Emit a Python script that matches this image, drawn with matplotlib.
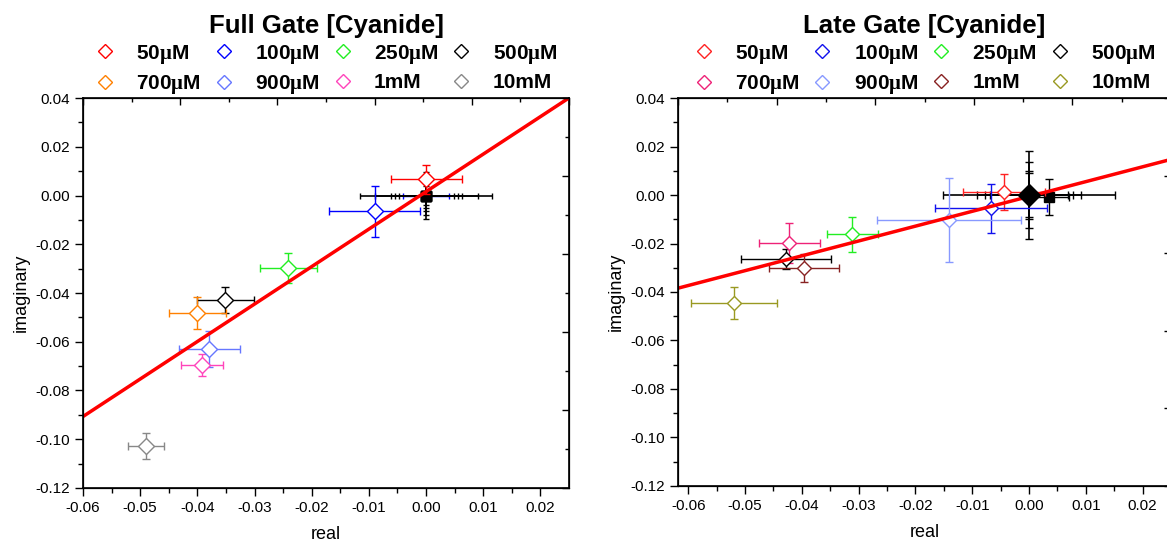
import matplotlib
matplotlib.use('Agg')
import matplotlib.pyplot as plt
from matplotlib.lines import Line2D
import numpy as np

plt.rcParams['font.family'] = ['Liberation Sans', 'DejaVu Sans']
plt.rcParams['mathtext.fontset'] = 'custom'
plt.rcParams['mathtext.rm'] = 'Liberation Serif:bold'

labels = ['50$\\mathrm{\\mu}$M', '100$\\mathrm{\\mu}$M', '250$\\mathrm{\\mu}$M', '500$\\mathrm{\\mu}$M',
          '700$\\mathrm{\\mu}$M', '900$\\mathrm{\\mu}$M', '1mM', '10mM']

# Full gate panel
full_colors = ['#FF0000', '#0000FF', '#22EE22', '#000000', '#FF8000', '#6677FF', '#FF44BB', '#888888']
full_x = [0.0, -0.009, -0.0241, -0.0351, -0.040, -0.0379, -0.0392, -0.049]
full_y = [0.0067, -0.0065, -0.0297, -0.0429, -0.0482, -0.0630, -0.0695, -0.1028]
full_xerr = [0.0062, 0.0079, 0.0050, 0.0050, 0.0050, 0.0053, 0.0036, 0.0032]
full_yerr = [0.0060, 0.0105, 0.0060, 0.0053, 0.0064, 0.0074, 0.0045, 0.0053]
full_zero_xerr = [0.0115, 0.0090, 0.0062, 0.0055, 0.0048]
full_zero_yerr = [0.0098, 0.0078, 0.0062, 0.0050, 0.0040]
full_fit = (1.538, 0.0016)

# Late gate panel
late_colors = ['#FF2222', '#1111EE', '#22EE22', '#000000', '#EE2277', '#8899FF', '#882222', '#999922']
late_x = [-0.0044, -0.0067, -0.0311, -0.0428, -0.0422, -0.0141, -0.0396, -0.0520]
late_y = [0.0012, -0.0054, -0.0161, -0.0264, -0.0198, -0.0103, -0.0301, -0.0447]
late_xerr = [0.0072, 0.0099, 0.0045, 0.0080, 0.0054, 0.0127, 0.0061, 0.0076]
late_yerr = [0.0075, 0.0101, 0.0072, 0.0043, 0.0083, 0.0172, 0.0058, 0.0066]
late_zero_xerr = [0.0152, 0.0092, 0.0078, 0.0069]
late_zero_yerr = [0.0180, 0.0135, 0.0099, 0.0090]
late_ref_x, late_ref_y, late_ref_xerr, late_ref_yerr = 0.0035, -0.0008, 0.0035, 0.0075
late_fit = (0.612, -0.0006)


def style_axes(ax, xlim):
    ax.set_xlim(xlim)
    ax.set_ylim(-0.12, 0.04)
    ax.set_xticks(np.arange(-0.06, 0.0201, 0.01))
    ax.set_xticks(np.arange(-0.055, xlim[1], 0.01), minor=True)
    ax.set_yticks(np.arange(-0.12, 0.0401, 0.02))
    ax.set_yticks(np.arange(-0.11, 0.04, 0.02), minor=True)
    ax.xaxis.set_major_formatter(matplotlib.ticker.FormatStrFormatter('%.2f'))
    ax.yaxis.set_major_formatter(matplotlib.ticker.FormatStrFormatter('%.2f'))
    ax.tick_params(which='major', direction='out', length=6, width=1, labelsize=11)
    ax.tick_params(which='minor', direction='out', length=3.5, width=1)
    for s in ax.spines.values():
        s.set_linewidth(1.2)
    ax.set_xlabel('real', fontsize=13, labelpad=8)
    ax.set_ylabel('imaginary', fontsize=13, labelpad=4)
    # Origin-style opposite axes with their own 0..1 scale
    tx = ax.twiny()
    ty = ax.twinx()
    for a, axis in ((tx, tx.xaxis), (ty, ty.yaxis)):
        axis.set_major_locator(matplotlib.ticker.MultipleLocator(0.2))
        axis.set_minor_locator(matplotlib.ticker.MultipleLocator(0.1))
        a.tick_params(which='major', direction='in', length=5, width=1,
                      labeltop=False, labelright=False)
        a.tick_params(which='minor', direction='in', length=3, width=1)
    tx.set_xlim(0, 1)
    ty.set_ylim(0, 1)


def add_legend(ax, colors):
    handles = [Line2D([], [], ls='none', marker='D', mfc='none', mec=c, mew=1, ms=7) for c in colors]
    order = [0, 4, 1, 5, 2, 6, 3, 7]
    ax.legend([handles[i] for i in order], [labels[i] for i in order], ncol=4,
              loc='lower center', bbox_to_anchor=(0.5, 1.0), frameon=False,
              prop={'weight': 'bold', 'size': 15}, handlelength=1.0, handletextpad=1.0,
              columnspacing=0.6, labelspacing=0.35, borderaxespad=0.0, borderpad=0.1)


fig = plt.figure(figsize=(11.67, 5.43), dpi=100)
ax1 = fig.add_axes([0.0711, 0.1013, 0.4165, 0.7182])
ax2 = fig.add_axes([0.581, 0.105, 0.4225, 0.7145])

# left panel
style_axes(ax1, (-0.06, 0.025))
for i in range(len(full_zero_xerr)):
    ax1.errorbar(0, 0, xerr=full_zero_xerr[i], yerr=full_zero_yerr[i], fmt='s', color='k',
                 ms=7, capsize=2.5, elinewidth=1.2, capthick=1, zorder=3)
ax1.errorbar(0, 0, xerr=0.004, fmt='none', ecolor='#0000FF', capsize=2.5, elinewidth=1, zorder=2)
for i in range(len(full_x)):
    ax1.errorbar(full_x[i], full_y[i], xerr=full_xerr[i], yerr=full_yerr[i], fmt='D',
                 mfc='white', mec=full_colors[i], ecolor=full_colors[i], ms=8.5, mew=1,
                 capsize=3, elinewidth=1, capthick=1, zorder=4)
xx = np.array(ax1.get_xlim())
ax1.plot(xx, full_fit[0] * xx + full_fit[1], color='#FF0000', lw=2.5, zorder=5)
ax1.set_xlim(-0.06, 0.025)
ax1.set_title('Full Gate [Cyanide]', fontsize=18.5, fontweight='bold', pad=47)
add_legend(ax1, full_colors)

# right panel
style_axes(ax2, (-0.0618, 0.025))
for i in range(len(late_zero_xerr)):
    ax2.errorbar(0, 0, xerr=late_zero_xerr[i], yerr=late_zero_yerr[i], fmt='none', ecolor='k',
                 capsize=3, elinewidth=1.2, capthick=1, zorder=3)
ax2.errorbar(late_ref_x, late_ref_y, xerr=late_ref_xerr, yerr=late_ref_yerr, fmt='s', color='k',
             ms=7, capsize=3, elinewidth=1, zorder=3)
for i in range(len(late_x)):
    ax2.errorbar(late_x[i], late_y[i], xerr=late_xerr[i], yerr=late_yerr[i], fmt='D',
                 mfc='white', mec=late_colors[i], ecolor=late_colors[i], ms=7.5, mew=1,
                 capsize=3, elinewidth=1, capthick=1, zorder=4)
ax2.plot(0, 0, marker='D', color='k', ms=11, zorder=6)
xx = np.array(ax2.get_xlim())
ax2.plot(xx, late_fit[0] * xx + late_fit[1], color='#FF0000', lw=2.5, zorder=5)
ax2.set_xlim(-0.0618, 0.025)
ax2.set_title('Late Gate [Cyanide]', fontsize=18.5, fontweight='bold', pad=47)
add_legend(ax2, late_colors)

fig.savefig('out.png', dpi=100)
